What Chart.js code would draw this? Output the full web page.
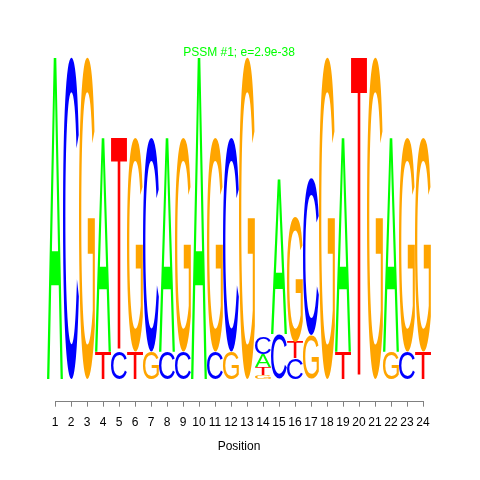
<!DOCTYPE html>
<html>
<head>
<meta charset="utf-8">
<script src="https://cdn.jsdelivr.net/npm/chart.js@4.4.0/dist/chart.umd.min.js"></script>
<style>html,body{margin:0;padding:0;background:#fff}</style>
</head>
<body>
<canvas id="logo" width="480" height="480"></canvas>
<script>
const positions = ['1','2','3','4','5','6','7','8','9','10','11','12','13','14','15','16','17','18','19','20','21','22','23','24'];

// stack layers, bottom to top (letter + height in bits)
const layer1 = ['A','C','G','T','C','T','G','C','C','A','C','G','G','G','C','C','G','G','T','T','G','G','C','T'];
const layer1Bits = [2.0,2.0,2.0,0.17,0.17,0.17,0.17,0.17,0.17,2.0,0.17,0.17,2.0,0.025,0.28,0.13,0.27,2.0,0.17,2.0,2.0,0.17,0.17,0.17];
const layer2 = ['','','','A','T','G','C','A','G','','G','C','','T','A','T','C','','A','','','A','G','G'];
const layer2Bits = [0,0,0,1.33,1.33,1.33,1.33,1.33,1.33,0,1.33,1.33,0,0.05,0.96,0.10,0.97,0,1.33,0,0,1.33,1.33,1.33];
const layer3 = ['','','','','','','','','','','','','','A','','G','','','','','','','',''];
const layer3Bits = [0,0,0,0,0,0,0,0,0,0,0,0,0,0.08,0,0.78,0,0,0,0,0,0,0,0];
const layer4 = ['','','','','','','','','','','','','','C','','','','','','','','','',''];
const layer4Bits = [0,0,0,0,0,0,0,0,0,0,0,0,0,0.105,0,0,0,0,0,0,0,0,0,0];

const letterColors = { A: '#00ff00', C: '#0000ff', G: '#ffa500', T: '#ff0000' };

function drawLetter(ctx, ch, x, y, w, h) {
  ctx.save();
  ctx.font = '100px "Liberation Sans", Arial, sans-serif';
  ctx.textAlign = 'left';
  ctx.textBaseline = 'alphabetic';
  const m = ctx.measureText(ch);
  const gw = m.actualBoundingBoxLeft + m.actualBoundingBoxRight;
  const gh = m.actualBoundingBoxAscent + m.actualBoundingBoxDescent;
  ctx.translate(x, y);
  ctx.scale(w / gw, h / gh);
  ctx.fillStyle = letterColors[ch];
  ctx.fillText(ch, m.actualBoundingBoxLeft, m.actualBoundingBoxAscent);
  ctx.restore();
}

// paint each stacked bar as a stretched letter
const letterPlugin = {
  id: 'letters',
  afterDatasetsDraw(chart) {
    const ctx = chart.ctx;
    chart.data.datasets.forEach((ds, di) => {
      chart.getDatasetMeta(di).data.forEach((bar, i) => {
        const ch = ds.letters[i];
        const h = bar.base - bar.y;
        if (!ch || h < 0.5) return;
        drawLetter(ctx, ch, bar.x - bar.width / 2, bar.y, bar.width, h);
      });
    });
  }
};

const layers = [[layer1, layer1Bits], [layer2, layer2Bits], [layer3, layer3Bits], [layer4, layer4Bits]];

new Chart(document.getElementById('logo'), {
  type: 'bar',
  data: {
    labels: positions,
    datasets: layers.map(([letters, bits]) => ({
      data: bits,
      letters: letters,
      backgroundColor: 'rgba(0,0,0,0)',
      borderWidth: 0,
      barPercentage: 1,
      categoryPercentage: 1,
      stack: 'logo'
    }))
  },
  options: {
    responsive: false,
    animation: false,
    layout: { padding: { left: 55, right: 57, top: 45, bottom: 26.5 } },
    plugins: {
      legend: { display: false },
      tooltip: { enabled: false },
      title: {
        display: true,
        text: 'PSSM #1; e=2.9e-38',
        color: '#00ff00',
        font: { family: '"Liberation Sans", Arial, sans-serif', size: 12, weight: 'normal' },
        padding: 0
      }
    },
    scales: {
      x: {
        stacked: true,
        offset: false,
        grid: { offset: false, drawOnChartArea: false, drawTicks: true, tickLength: 5, color: '#808080' },
        border: { display: true, color: '#808080', width: 1 },
        ticks: {
          color: '#000',
          font: { family: '"Liberation Sans", Arial, sans-serif', size: 12 },
          padding: 9,
          maxRotation: 0,
          autoSkip: false
        },
        title: {
          display: true,
          text: 'Position',
          color: '#000',
          font: { family: '"Liberation Sans", Arial, sans-serif', size: 12 },
          padding: { top: 0, bottom: 0 }
        }
      },
      y: { stacked: true, display: false, min: -0.1406, max: 1.985 }
    }
  },
  plugins: [letterPlugin]
});
</script>
</body>
</html>
